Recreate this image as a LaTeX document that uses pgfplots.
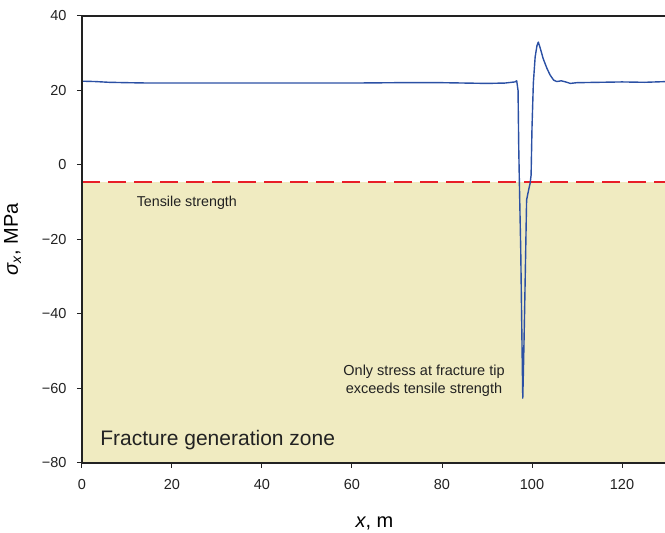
\documentclass[border=0pt]{standalone}
\usepackage{pgfplots}
\pgfplotsset{compat=1.18}
\usepackage{fontspec}
\setmainfont{Liberation Sans}
\definecolor{curveblue}{RGB}{43,80,164}
\definecolor{zonefill}{RGB}{240,235,193}
\definecolor{tsred}{RGB}{232,30,40}
\definecolor{axisdark}{RGB}{34,34,34}
\begin{document}
\begin{tikzpicture}[x=1pt,y=1pt]
\begin{axis}[
  at={(0,0)}, anchor=south west,
  scale only axis, width=585pt, height=447pt,
  xmin=0, xmax=130, ymin=-80, ymax=40,
  xtick={0,20,40,60,80,100,120}, ytick={-80,-60,-40,-20,0,20,40},
  yticklabels={−80,−60,−40,−20,0,20,40},
  tick align=outside, tick pos=left,
  major tick length=5pt,
  axis line style={axisdark, line width=1.3pt},
  every tick/.style={axisdark, line width=1pt},
  /pgf/number format/assume math mode=true,
  ticklabel style={font=\fontsize{14.5}{16}\selectfont, text=axisdark},
  xticklabel style={yshift=-8pt},
  yticklabel style={xshift=-7pt},
  xlabel={\fontsize{20}{24}\selectfont\textit{x}, m},
  ylabel={\fontsize{20}{24}\selectfont\textit{σ}\textsubscript{\textit{x}}, MPa},
  xlabel style={yshift=-20pt},
  ylabel style={yshift=14pt},
  clip=true,
  axis on top,
]
\addplot[draw=none, fill=zonefill] coordinates {(0,-80) (130,-80) (130,-4.5) (0,-4.5)} -- cycle;
\addplot[tsred, line width=1.6pt, dash pattern=on 18pt off 8pt] coordinates {(0,-4.5) (130,-4.5)};
\addplot[curveblue, line width=1.4pt, line join=round] coordinates {
(0,22.5) (3,22.4) (6,22.2) (10,22.1) (15,22.0) (20,22.0) (30,22.0) (40,22.0) (50,22.0) (60,22.0) (70,22.1) (80,22.1) (85,22.0) (90,21.9) (94,22.0) (96.2,22.3) (96.6,22.6)
(96.9,20) (97.05,5) (97.2,-5) (97.5,-23) (97.8,-50) (97.95,-62.6) (98.1,-55) (98.3,-43) (98.6,-23) (98.8,-9.4) (99.2,-7) (99.6,-4.8) (99.8,-2.7) (100.0,10) (100.3,22) (100.7,29) (101.1,32) (101.4,33) (101.8,31.5) (102.5,28.5) (103.3,26) (104,24.2) (104.8,22.8) (105.5,22.4) (106.5,22.6) (107.5,22.3) (108.5,21.9) (110,22.1) (115,22.2) (120,22.3) (125,22.2) (130,22.4)
};
\node[font=\fontsize{14.3}{16}\selectfont, text=axisdark] at (axis cs:23.3,-10.2) {Tensile strength};
\node[font=\fontsize{14.5}{18}\selectfont, text=axisdark, align=center] at (axis cs:76,-58) {Only stress at fracture tip\\exceeds tensile strength};
\node[font=\fontsize{21}{24}\selectfont, text=axisdark, anchor=west] at (axis cs:3.3,-73.8) {Fracture generation zone};
\end{axis}
\pgfresetboundingbox
\useasboundingbox (-82pt,-70pt) rectangle (583pt,463pt);
\end{tikzpicture}
\end{document}
